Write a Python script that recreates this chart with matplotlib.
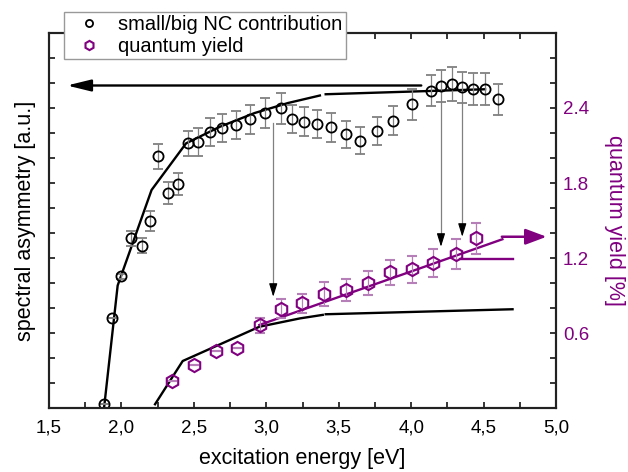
import matplotlib
matplotlib.use("Agg")
import matplotlib.pyplot as plt
from matplotlib.ticker import MultipleLocator, FuncFormatter
from matplotlib.lines import Line2D

plt.rcParams['font.family'] = ['Liberation Sans', 'DejaVu Sans']

PURPLE = '#800080'
GRAY = '#808080'

# ---- data: small/big NC contribution (left axis) ----
asym_x = [1.88, 1.937, 1.999, 2.064, 2.14, 2.197, 2.255, 2.324, 2.388, 2.457, 2.531,
          2.611, 2.696, 2.789, 2.888, 2.991, 3.10, 3.18, 3.26, 3.348, 3.447, 3.548,
          3.647, 3.762, 3.877, 4.004, 4.137, 4.206, 4.28, 4.353, 4.429, 4.51, 4.60]
asym_y = [0.03, 0.72, 1.056, 1.357, 1.30, 1.50, 2.016, 1.72, 1.79, 2.117, 2.13,
          2.21, 2.24, 2.264, 2.31, 2.36, 2.397, 2.31, 2.29, 2.27, 2.245, 2.19,
          2.14, 2.216, 2.30, 2.43, 2.54, 2.576, 2.59, 2.565, 2.55, 2.55, 2.47]
asym_err = [0.0, 0.0, 0.02, 0.06, 0.06, 0.08, 0.10, 0.09, 0.088, 0.097, 0.11,
            0.11, 0.11, 0.115, 0.115, 0.12, 0.123, 0.112, 0.115, 0.113, 0.113, 0.109,
            0.109, 0.113, 0.117, 0.123, 0.127, 0.13, 0.135, 0.127, 0.127, 0.127, 0.124]

# ---- data: quantum yield (right axis) ----
qy_x = [2.347, 2.50, 2.65, 2.80, 2.957, 3.10, 3.249, 3.398, 3.55, 3.704, 3.854,
        4.004, 4.153, 4.31, 4.448]
qy_y = [0.218, 0.344, 0.459, 0.483, 0.664, 0.795, 0.837, 0.912, 0.944, 1.003, 1.085,
        1.11, 1.163, 1.232, 1.357]
qy_err = [0.0, 0.0, 0.0, 0.0, 0.06, 0.076, 0.073, 0.093, 0.09, 0.097, 0.103,
          0.107, 0.113, 0.12, 0.127]

# ---- model lines ----
fit_up_a_x = [1.88, 1.974, 2.208, 2.446, 2.68, 2.92, 3.15, 3.37]
fit_up_a_y = [0.0, 0.98, 1.744, 2.117, 2.25, 2.36, 2.44, 2.50]
fit_up_b_x = [3.41, 4.51]
fit_up_b_y = [2.51, 2.55]

fit_lo_a_x = [2.232, 2.423, 2.952, 3.233, 3.39]
fit_lo_a_y = [0.03, 0.376, 0.65, 0.717, 0.745]
fit_lo_b_x = [3.41, 4.70]
fit_lo_b_y = [0.75, 0.79]

qy_fit_x = [2.952, 4.63]
qy_fit_y = [0.664, 1.35]
qy_level_x = [4.34, 4.70]
qy_level_y = [1.19, 1.19]

# arrows
left_arrow = (4.07, 1.624, 2.58)           # x_start, x_end, y
qy_arrow = (4.626, 4.935, 1.37)            # x_start, x_end, y
drop_arrows_x = [3.048, 4.206, 4.353]
drop_arrows_y0 = [2.278, 2.45, 2.44]
drop_arrows_y1 = [0.89, 1.29, 1.37]

xticks_major = [1.5, 2.0, 2.5, 3.0, 3.5, 4.0, 4.5, 5.0]
legend_labels = ['small/big NC contribution', 'quantum yield']

fig = plt.figure(figsize=(6.28, 4.72), dpi=100)
ax = fig.add_axes([49/628, 1-408/472, (556-49)/628, (408-33)/472])
ax2 = ax.twinx()

for a in (ax, ax2):
    a.set_xlim(1.5, 5.0)
    a.set_ylim(0, 3.0)

# black data
ax.errorbar(asym_x, asym_y, yerr=asym_err, fmt='o', ms=7.3, mfc='none', mec='black',
            mew=1.3, ecolor=GRAY, elinewidth=0.9, capsize=3.5, capthick=0.9, zorder=4)
ax.plot(fit_up_a_x, fit_up_a_y, color='black', lw=1.7, zorder=3)
ax.plot(fit_up_b_x, fit_up_b_y, color='black', lw=1.7, zorder=3)
ax.plot(fit_lo_a_x, fit_lo_a_y, color='black', lw=1.7, zorder=3)
ax.plot(fit_lo_b_x, fit_lo_b_y, color='black', lw=1.7, zorder=3)

ax.annotate('', xy=(left_arrow[1], left_arrow[2]), xytext=(left_arrow[0], left_arrow[2]),
            arrowprops=dict(arrowstyle='-|>,head_length=0.9,head_width=0.22',
                            color='black', lw=1.7, mutation_scale=16, shrinkA=0, shrinkB=0))

for x, y0, y1 in zip(drop_arrows_x, drop_arrows_y0, drop_arrows_y1):
    ax.plot([x, x], [y0, y1 + 0.05], color=GRAY, lw=0.9, zorder=2)
    ax.annotate('', xy=(x, y1), xytext=(x, y1 + 0.08),
                arrowprops=dict(arrowstyle='-|>,head_length=0.8,head_width=0.25',
                                color='black', lw=0.8, mutation_scale=10,
                                shrinkA=0, shrinkB=0))

# purple data
ax2.errorbar(qy_x, qy_y, yerr=qy_err, fmt='h', ms=9.5, mfc='none', mec=PURPLE,
             mew=1.5, ecolor='#b77fb7', elinewidth=0.9, capsize=3.5, capthick=0.9, zorder=4)
ax2.plot(qy_fit_x, qy_fit_y, color=PURPLE, lw=1.7, zorder=3)
ax2.plot(qy_level_x, qy_level_y, color=PURPLE, lw=1.7, zorder=3)
ax2.annotate('', xy=(qy_arrow[1], qy_arrow[2]), xytext=(qy_arrow[0], qy_arrow[2]),
             arrowprops=dict(arrowstyle='-|>,head_length=0.8,head_width=0.3',
                             color=PURPLE, lw=1.8, mutation_scale=16, shrinkA=0, shrinkB=0))

# ticks
ax.xaxis.set_major_locator(plt.FixedLocator(xticks_major))
ax.xaxis.set_minor_locator(MultipleLocator(0.25))
ax.xaxis.set_major_formatter(FuncFormatter(lambda v, p: f"{v:.1f}".replace('.', ',')))
ax.yaxis.set_major_locator(MultipleLocator(0.2))
ax.tick_params(axis='both', which='both', direction='in', length=4.5, width=1.1,
               top=True, right=False, labelsize=13.5, pad=8)
ax.tick_params(axis='y', which='both', labelleft=False)

ax2.yaxis.set_major_locator(MultipleLocator(0.6))
ax2.yaxis.set_minor_locator(MultipleLocator(0.2))
ax2.yaxis.set_major_formatter(FuncFormatter(lambda v, p: '' if v < 0.3 or v > 2.7 else f"{v:.1f}"))
ax2.tick_params(axis='y', which='both', direction='in', length=4.5, width=1.1,
                labelsize=13.5, labelcolor=PURPLE, pad=5)

for a in (ax, ax2):
    for s in a.spines.values():
        s.set_linewidth(1.5)
        s.set_color('#222222')

ax.set_xlabel('excitation energy [eV]', fontsize=15.5, labelpad=8.5)
ax.set_ylabel('spectral asymmetry [a.u.]', fontsize=15.5, labelpad=9)
ax2.set_ylabel('quantum yield [%]', fontsize=15.5, color=PURPLE, rotation=270, labelpad=26)

handles = [Line2D([], [], ls='none', marker='o', ms=7.3, mfc='none', mec='black', mew=1.3),
           Line2D([], [], ls='none', marker='h', ms=9.5, mfc='none', mec=PURPLE, mew=1.5)]
leg = fig.legend(handles, legend_labels,
                 loc='upper left', bbox_to_anchor=(64/628, 1-12/472), borderaxespad=0,
                 fontsize=14.5, frameon=True, fancybox=False, markerscale=0.7,
                 handlelength=2.2, handletextpad=0.35, borderpad=0.15, labelspacing=0.15)
leg.get_frame().set_edgecolor('#999999')
leg.get_frame().set_linewidth(1.0)
leg.get_frame().set_alpha(1)

fig.savefig('out.png', dpi=100)
